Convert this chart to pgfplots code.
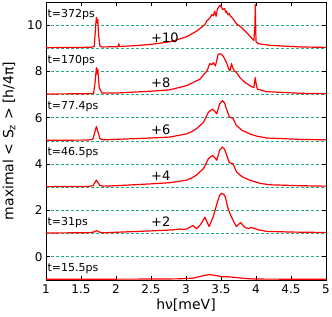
\documentclass[border=0pt]{standalone}
\usepackage{fontspec}
\setmainfont{DejaVu Sans}
\usepackage{pgfplots}
\pgfplotsset{compat=1.18}
\definecolor{dashc}{RGB}{40,170,135}
\begin{document}
\begin{tikzpicture}
\useasboundingbox (-46pt,-36pt) rectangle (286pt,280pt);
\begin{axis}[at={(0,0)}, anchor=south west, scale only axis,
  width=280pt, height=278pt,
  xmin=1, xmax=5, ymin=-1, ymax=11,
  xtick={1,1.5,2,2.5,3,3.5,4,4.5,5},
  xticklabels={1,1.5,2,2.5,3,3.5,4,4.5,5},
  ytick={0,2,4,6,8,10},
  minor ytick={-1,1,3,5,7,9},
  minor tick length=0pt,
  major tick length=4pt,
  tick align=inside,
  ymajorgrids, yminorgrids,
  major grid style={dashc, line width=0.8pt, dash pattern=on 3pt off 2pt},
  minor grid style={dashc, line width=0.8pt, dash pattern=on 3pt off 2pt},
  /pgf/number format/assume math mode=true,
  tick label style={font=\fontsize{12}{14}\selectfont},
  xticklabel style={yshift=-1pt},
  every axis x label/.style={at={(axis description cs:0.5,-0.09)}, anchor=center, font=\fontsize{14}{16}\selectfont},
  every axis y label/.style={at={(axis description cs:-0.132,0.5)}, rotate=90, anchor=center, font=\fontsize{14}{16}\selectfont},
  xlabel={hν[meV]},
  ylabel={maximal < S\textsubscript{z} > [h/4π]},
  axis line style={black, line width=0.8pt},
  every tick/.style={black, line width=0.7pt},
  clip=true,
]
\pgfplotsset{cycle list={{red, line width=1.2pt, line join=round}}}
% t=15.5ps (+0)
\addplot[red, line width=1.2pt, line join=round] coordinates {(1,-0.97)(2.5,-0.96)(2.9,-0.95)(3.1,-0.92)(3.2,-0.85)(3.28,-0.79)(3.35,-0.77)(3.45,-0.82)(3.52,-0.86)(3.6,-0.86)(3.7,-0.89)(3.87,-0.94)(4.0,-0.96)(5,-0.97)};
% t=31ps (+2)
\addplot[red, line width=1.2pt, line join=round] coordinates {(1,1.03)(1.6,1.04)(1.67,1.06)(1.72,1.13)(1.77,1.06)(1.82,1.04)(2.0,1.06)(2.5,1.12)(2.8,1.16)(2.91,1.2)(2.96,1.18)(3.01,1.2)(3.1,1.35)(3.15,1.21)(3.21,1.4)(3.27,1.71)(3.33,1.31)(3.39,1.74)(3.45,2.38)(3.48,2.65)(3.51,2.74)(3.54,2.7)(3.56,2.6)(3.6,2.1)(3.64,1.78)(3.68,1.53)(3.72,1.31)(3.78,1.48)(3.84,1.27)(3.9,1.22)(3.93,1.27)(3.96,1.24)(4.03,1.17)(4.15,1.1)(4.49,1.07)(5,1.05)};
% t=46.5ps (+4)
\addplot[red, line width=1.2pt, line join=round] coordinates {(1,3.03)(1.6,3.04)(1.67,3.07)(1.72,3.31)(1.77,3.08)(1.82,3.05)(2.0,3.07)(2.5,3.15)(2.77,3.2)(3.01,3.31)(3.08,3.4)(3.15,3.53)(3.25,3.81)(3.32,4.24)(3.38,4.38)(3.42,4.25)(3.44,4.17)(3.48,4.6)(3.52,4.74)(3.55,4.65)(3.57,4.48)(3.62,4.06)(3.67,4.03)(3.72,3.67)(3.8,3.46)(3.91,3.31)(4.06,3.17)(4.2,3.11)(4.63,3.07)(5,3.05)};
% t=77.4ps (+6)
\addplot[red, line width=1.2pt, line join=round] coordinates {(1,5.03)(1.6,5.04)(1.67,5.08)(1.72,5.63)(1.77,5.1)(1.82,5.05)(2.0,5.07)(2.5,5.13)(2.77,5.17)(3.01,5.31)(3.08,5.4)(3.15,5.53)(3.25,5.81)(3.32,6.24)(3.38,6.38)(3.42,6.25)(3.44,6.17)(3.48,6.6)(3.52,6.74)(3.55,6.65)(3.57,6.46)(3.62,6.03)(3.67,5.98)(3.72,5.67)(3.8,5.46)(3.91,5.31)(4.01,5.21)(4.15,5.13)(4.63,5.07)(5,5.05)};
% t=170ps (+8)
\addplot[red, line width=1.2pt, line join=round] coordinates {(1,7.03)(1.6,7.04)(1.68,7.06)(1.7,7.5)(1.72,8.17)(1.73,7.9)(1.74,8.1)(1.76,7.3)(1.8,7.07)(2.0,7.07)(2.5,7.15)(2.77,7.21)(3.01,7.39)(3.2,7.67)(3.3,8.03)(3.34,8.34)(3.37,8.3)(3.39,8.38)(3.42,8.24)(3.46,8.74)(3.49,8.77)(3.53,8.67)(3.56,8.5)(3.58,8.38)(3.61,8.1)(3.63,8.03)(3.65,8.34)(3.67,8.15)(3.69,8.03)(3.72,7.96)(3.77,7.74)(3.84,7.53)(3.94,7.34)(3.97,7.31)(3.99,7.74)(4.0,7.5)(4.02,7.24)(4.15,7.13)(4.63,7.06)(5,7.04)};
% t=372ps (+10)
\addplot[red, line width=1.2pt, line join=round] coordinates {(1,9.03)(1.5,9.04)(1.65,9.05)(1.69,9.08)(1.71,10.0)(1.72,10.34)(1.73,10.1)(1.74,10.25)(1.75,9.6)(1.77,9.1)(1.8,9.06)(2.0,9.07)(2.03,9.07)(2.04,9.2)(2.05,9.08)(2.3,9.12)(2.5,9.17)(2.77,9.28)(3.01,9.5)(3.15,9.74)(3.22,9.9)(3.27,10.03)(3.3,10.2)(3.32,10.24)(3.35,10.35)(3.37,10.46)(3.39,10.4)(3.41,10.6)(3.43,10.38)(3.45,10.7)(3.47,10.8)(3.49,10.86)(3.51,10.75)(3.53,10.67)(3.55,10.72)(3.57,10.55)(3.58,10.6)(3.6,10.45)(3.62,10.5)(3.63,10.4)(3.65,10.35)(3.68,10.24)(3.7,10.15)(3.72,10.06)(3.75,10.0)(3.8,9.88)(3.87,9.67)(3.94,9.43)(3.97,9.34)(3.985,10.0)(3.99,10.89)(3.995,10.0)(4.0,9.3)(4.03,9.2)(4.2,9.13)(4.63,9.06)(5,9.04)};
% labels
\begin{scope}[every node/.style={font=\fontsize{11}{13}\selectfont, inner sep=0pt, anchor=west}]
\node at (axis cs:1.02,10.47) {t=372ps};
\node at (axis cs:1.02,8.46) {t=170ps};
\node at (axis cs:1.02,6.49) {t=77.4ps};
\node at (axis cs:1.02,4.51) {t=46.5ps};
\node at (axis cs:1.02,1.48) {t=31ps};
\node at (axis cs:1.02,-0.51) {t=15.5ps};
\end{scope}
\begin{scope}[every node/.style={font=\fontsize{13}{15}\selectfont, inner sep=0pt, anchor=west}]
\node at (axis cs:2.5,9.46) {+10};
\node at (axis cs:2.5,7.51) {+8};
\node at (axis cs:2.5,5.5) {+6};
\node at (axis cs:2.5,3.52) {+4};
\node at (axis cs:2.5,1.51) {+2};
\end{scope}
\end{axis}
\end{tikzpicture}
\end{document}
